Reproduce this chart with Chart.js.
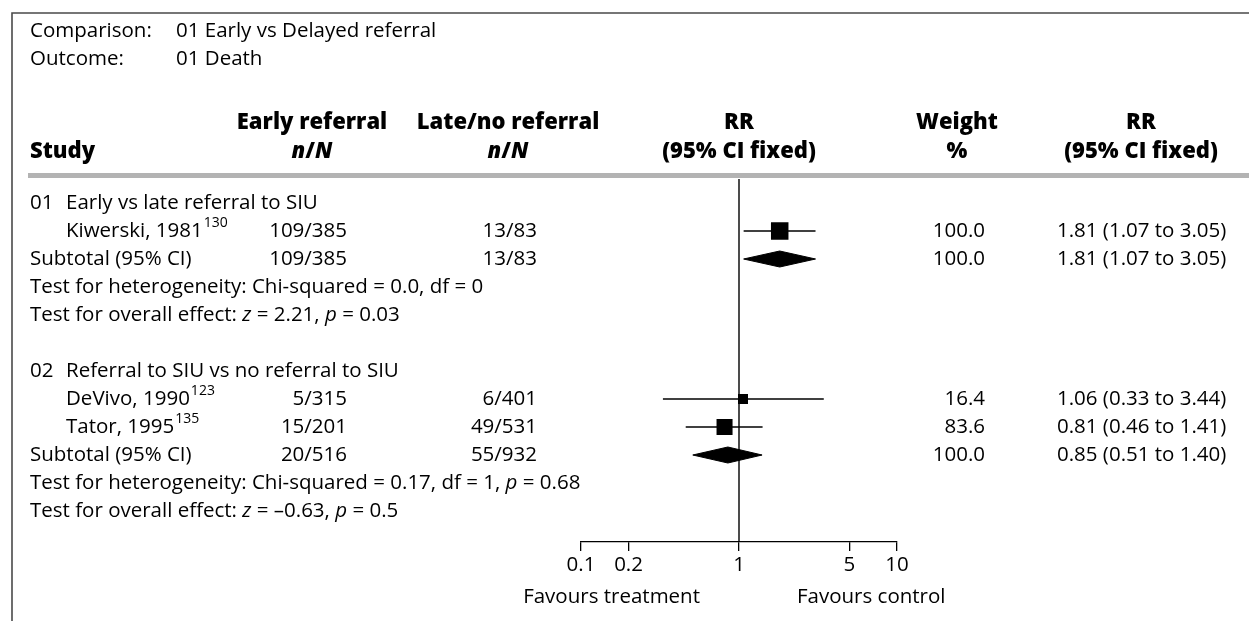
<!DOCTYPE html>
<html>
<head>
<meta charset="utf-8">
<script src="https://cdn.jsdelivr.net/npm/chart.js@4.4.1/dist/chart.umd.min.js"></script>
<style>
  html, body { margin: 0; padding: 0; background: #fff; }
  #wrap { width: 1249px; height: 621px; position: relative; }
  canvas { display: block; }
</style>
</head>
<body>
<div id="wrap"><canvas id="forest" width="1249" height="621"></canvas></div>
<script>
// Early vs delayed referral, outcome: death
const comparisonLabel = 'Comparison:';
const comparisonText = '01 Early vs Delayed referral';
const outcomeLabel = 'Outcome:';
const outcomeText = '01 Death';

const groupNums = ['01', '02'];
const groupTitles = ['Early vs late referral to SIU', 'Referral to SIU vs no referral to SIU'];

const studyNames = ['Kiwerski, 1981', 'DeVivo, 1990', 'Tator, 1995'];
const studyRefs = ['130', '123', '135'];
const studyGroup = [0, 1, 1];
const earlyEvents = ['109/385', '5/315', '15/201'];
const lateEvents = ['13/83', '6/401', '49/531'];
const studyRR = [1.81, 1.06, 0.81];
const studyLow = [1.07, 0.33, 0.46];
const studyHigh = [3.05, 3.44, 1.41];
const studyWeight = [100.0, 16.4, 83.6];

const subtotalEarly = ['109/385', '20/516'];
const subtotalLate = ['13/83', '55/932'];
const subtotalRR = [1.81, 0.85];
const subtotalLow = [1.07, 0.51];
const subtotalHigh = [3.05, 1.40];
const subtotalWeight = [100.0, 100.0];

const hetChi = ['0.0', '0.17'];
const hetDf = ['0', '1'];
const hetP = [null, '0.68'];
const overallZ = ['2.21', '\u20130.63'];
const overallP = ['0.03', '0.5'];

const tickValues = [0.1, 0.2, 1, 5, 10];
const tickLabels = ['0.1', '0.2', '1', '5', '10'];

// ---- row structure ----
const rows = [];
groupTitles.forEach((t, g) => {
  if (g > 0) rows.push({ kind: 'blank' });
  rows.push({ kind: 'group', g });
  studyNames.forEach((n, s) => { if (studyGroup[s] === g) rows.push({ kind: 'study', s }); });
  rows.push({ kind: 'subtotal', g });
  rows.push({ kind: 'het', g });
  rows.push({ kind: 'overall', g });
});

// ---- layout ----
const W = 1249, H = 621;
const FAMILY = '"Open Sans", Lato, "DejaVu Sans", sans-serif';
const FS = 20.5;      // body text
const FS_HEAD = 22;   // bold column headers
const ROW_H = 28;
const PLOT_TOP = 179, FIRST_ROW = 203, AXIS_Y = 542;
const LAST_ROW = FIRST_ROW + ROW_H * (rows.length - 1);
const Y_MIN = -(FIRST_ROW - PLOT_TOP) / ROW_H;
const Y_MAX = (rows.length - 1) + (AXIS_Y - LAST_ROW) / ROW_H;
const PLOT_LEFT = 581, PLOT_RIGHT = 897;
const AXIS_H = 40;

const COL = {
  study: 30, indent: 66, meta: 176,
  earlyHead: 312, earlyNum: 347,
  lateHead: 508, lateNum: 537,
  rrHead: 739,
  wHead: 957, wNum: 985,
  rrColHead: 1141, rrColText: 1057
};

// ---- datasets ----
const datasets = [];
const BLACK = '#000';

// line of no effect
datasets.push({
  data: [{ x: 1, y: Y_MIN }, { x: 1, y: Y_MAX }],
  borderColor: BLACK, borderWidth: 1.4, pointRadius: 0, fill: false
});

const squarePts = [], squareRadius = [];
rows.forEach((r, i) => {
  if (r.kind === 'study') {
    const s = r.s;
    datasets.push({
      data: [{ x: studyLow[s], y: i }, { x: studyHigh[s], y: i }],
      borderColor: BLACK, borderWidth: 1.3, pointRadius: 0, fill: false
    });
    squarePts.push({ x: studyRR[s], y: i });
    const side = 8.5 + 0.09 * studyWeight[s];
    squareRadius.push(side / Math.SQRT2);
  }
  if (r.kind === 'subtotal') {
    const g = r.g, h = 8 / ROW_H;
    datasets.push({
      data: [
        { x: subtotalLow[g], y: i },
        { x: subtotalRR[g], y: i - h },
        { x: subtotalHigh[g], y: i },
        { x: subtotalRR[g], y: i + h },
        { x: subtotalLow[g], y: i }
      ],
      borderColor: BLACK, borderWidth: 1, backgroundColor: BLACK,
      pointRadius: 0, fill: 'shape', tension: 0
    });
  }
});

datasets.push({
  data: squarePts,
  showLine: false,
  pointStyle: 'rect',
  pointRadius: squareRadius,
  pointBackgroundColor: BLACK,
  pointBorderColor: BLACK,
  pointBorderWidth: 0
});

// ---- text helpers ----
function fontFor(style, size) {
  const it = style.includes('i') ? 'italic ' : '';
  const bd = style.includes('b') ? '800 ' : '';
  return it + bd + size + 'px ' + FAMILY;
}
function sizeFor(style) {
  if (style === 'sup') return 14;
  return style.includes('b') ? FS_HEAD : FS;
}
function runWidth(ctx, run) {
  const [t, style] = run;
  ctx.font = style === 'sup' ? fontFor('', 14) : fontFor(style, sizeFor(style));
  return ctx.measureText(t).width;
}
function drawRuns(ctx, runs, x, y, align) {
  const total = runs.reduce((a, r) => a + runWidth(ctx, r), 0);
  let cx = align === 'right' ? x - total : align === 'center' ? x - total / 2 : x;
  ctx.textAlign = 'left';
  ctx.textBaseline = 'middle';
  runs.forEach(run => {
    const [t, style] = run;
    const w = runWidth(ctx, run);
    if (style === 'sup') {
      ctx.font = fontFor('', 14);
      ctx.fillText(t, cx + 1, y - 8);
      cx += w + 1;
    } else {
      ctx.font = fontFor(style, sizeFor(style));
      ctx.fillText(t, cx, y);
      cx += w;
    }
  });
}
const txt = (ctx, s, x, y, align, style) => drawRuns(ctx, [[s, style || '']], x, y, align || 'left');
const rrText = (v, lo, hi) => v.toFixed(2) + ' (' + lo.toFixed(2) + ' to ' + hi.toFixed(2) + ')';

const tablePlugin = {
  id: 'forestTable',
  afterDraw(chart) {
    const ctx = chart.ctx;
    const ys = chart.scales.y;
    const xs = chart.scales.x;
    ctx.save();
    ctx.fillStyle = '#000';

    // frame
    ctx.strokeStyle = '#4a4a4a';
    ctx.lineWidth = 1.6;
    ctx.beginPath();
    ctx.moveTo(12, H);
    ctx.lineTo(12, 13);
    ctx.lineTo(W, 13);
    ctx.stroke();

    // heading block
    txt(ctx, comparisonLabel, COL.study, 31);
    txt(ctx, comparisonText, COL.meta, 31);
    txt(ctx, outcomeLabel, COL.study, 59);
    txt(ctx, outcomeText, COL.meta, 59);

    // column headers
    const h1 = 123, h2 = 152;
    const nN = [['n', 'bi'], ['/', 'b'], ['N', 'bi']];
    txt(ctx, 'Study', COL.study, h2, 'left', 'b');
    txt(ctx, 'Early referral', COL.earlyHead, h1, 'center', 'b');
    drawRuns(ctx, nN, COL.earlyHead, h2, 'center');
    txt(ctx, 'Late/no referral', COL.lateHead, h1, 'center', 'b');
    drawRuns(ctx, nN, COL.lateHead, h2, 'center');
    txt(ctx, 'RR', COL.rrHead, h1, 'center', 'b');
    txt(ctx, '(95% CI fixed)', COL.rrHead, h2, 'center', 'b');
    txt(ctx, 'Weight', COL.wHead, h1, 'center', 'b');
    txt(ctx, '%', COL.wHead, h2, 'center', 'b');
    txt(ctx, 'RR', COL.rrColHead, h1, 'center', 'b');
    txt(ctx, '(95% CI fixed)', COL.rrColHead, h2, 'center', 'b');

    // header rule
    ctx.fillStyle = '#b3b3b3';
    ctx.fillRect(28, 173, W - 28, 5);
    ctx.fillStyle = '#000';

    // body rows
    rows.forEach((r, i) => {
      const y = ys.getPixelForValue(i);
      if (r.kind === 'group') {
        txt(ctx, groupNums[r.g], COL.study, y);
        txt(ctx, groupTitles[r.g], COL.indent, y);
      } else if (r.kind === 'study') {
        const s = r.s;
        drawRuns(ctx, [[studyNames[s], ''], [studyRefs[s], 'sup']], COL.indent, y, 'left');
        txt(ctx, earlyEvents[s], COL.earlyNum, y, 'right');
        txt(ctx, lateEvents[s], COL.lateNum, y, 'right');
        txt(ctx, studyWeight[s].toFixed(1), COL.wNum, y, 'right');
        txt(ctx, rrText(studyRR[s], studyLow[s], studyHigh[s]), COL.rrColText, y);
      } else if (r.kind === 'subtotal') {
        const g = r.g;
        txt(ctx, 'Subtotal (95% CI)', COL.study, y);
        txt(ctx, subtotalEarly[g], COL.earlyNum, y, 'right');
        txt(ctx, subtotalLate[g], COL.lateNum, y, 'right');
        txt(ctx, subtotalWeight[g].toFixed(1), COL.wNum, y, 'right');
        txt(ctx, rrText(subtotalRR[g], subtotalLow[g], subtotalHigh[g]), COL.rrColText, y);
      } else if (r.kind === 'het') {
        const g = r.g;
        const runs = [['Test for heterogeneity: Chi-squared = ' + hetChi[g] + ', df = ' + hetDf[g], '']];
        if (hetP[g] !== null) runs.push([', ', ''], ['p', 'i'], [' = ' + hetP[g], '']);
        drawRuns(ctx, runs, COL.study, y, 'left');
      } else if (r.kind === 'overall') {
        const g = r.g;
        drawRuns(ctx, [['Test for overall effect: ', ''], ['z', 'i'], [' = ' + overallZ[g] + ', ', ''],
                       ['p', 'i'], [' = ' + overallP[g], '']], COL.study, y, 'left');
      }
    });

    // direction labels
    const x1 = xs.getPixelForValue(1);
    txt(ctx, 'Favours treatment', x1 - 39, 597, 'right');
    txt(ctx, 'Favours control', x1 + 58, 597, 'left');
    ctx.restore();
  }
};

new Chart(document.getElementById('forest'), {
  type: 'line',
  data: { datasets },
  options: {
    responsive: false,
    animation: false,
    events: [],
    layout: { padding: { top: PLOT_TOP, left: PLOT_LEFT, right: W - PLOT_RIGHT, bottom: H - AXIS_Y - AXIS_H } },
    plugins: { legend: { display: false }, tooltip: { enabled: false }, title: { display: false } },
    elements: { line: { tension: 0 } },
    scales: {
      x: {
        type: 'logarithmic',
        min: 0.1, max: 10,
        afterBuildTicks: s => { s.ticks = tickValues.map(v => ({ value: v })); },
        afterFit: s => { s.height = AXIS_H; },
        ticks: {
          autoSkip: false, maxRotation: 0, padding: 2, color: '#000',
          font: { family: FAMILY, size: FS },
          callback: (v, i) => tickLabels[i]
        },
        grid: { drawOnChartArea: false, drawTicks: true, tickLength: 9, color: '#000', lineWidth: 1.3 },
        border: { display: true, color: '#000', width: 1.3 }
      },
      y: {
        type: 'linear', display: false, reverse: true,
        min: Y_MIN, max: Y_MAX
      }
    }
  },
  plugins: [tablePlugin]
});
</script>
</body>
</html>
